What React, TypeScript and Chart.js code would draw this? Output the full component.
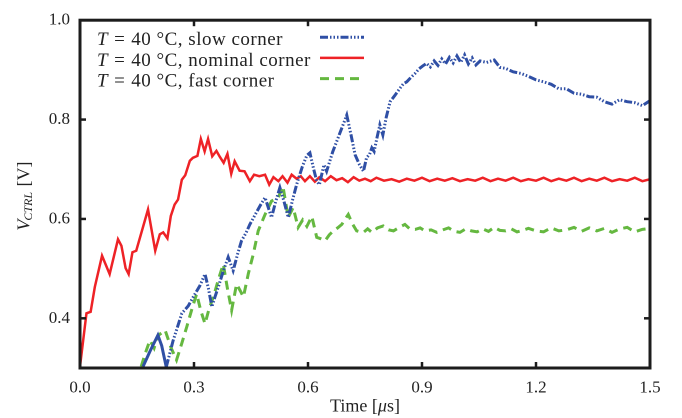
import React, { useEffect, useRef } from 'react';
import { Chart, registerables } from 'chart.js';

Chart.register(...registerables);

const xTicks = [0, 0.3, 0.6, 0.9, 1.2, 1.5];
const yTicks = [0.4, 0.6, 0.8, 1.0];
const legendLabels = ['slow corner', 'nominal corner', 'fast corner'];
const legendTemp = '40 °C';

const slowT = [0.166, 0.185, 0.205, 0.215, 0.227, 0.245, 0.268, 0.285, 0.298, 0.315, 0.329, 0.338, 0.347, 0.356, 0.364, 0.377, 0.39, 0.403, 0.415, 0.425, 0.437, 0.447, 0.462, 0.475, 0.487, 0.504, 0.515, 0.526, 0.537, 0.548, 0.56, 0.57, 0.585, 0.597, 0.605, 0.615, 0.623, 0.63, 0.642, 0.649, 0.665, 0.68, 0.69, 0.702, 0.713, 0.724, 0.735, 0.746, 0.754, 0.762, 0.768, 0.774, 0.782, 0.789, 0.797, 0.806, 0.816, 0.828, 0.842, 0.851, 0.86, 0.871, 0.882, 0.892, 0.902, 0.912, 0.922, 0.932, 0.942, 0.952, 0.962, 0.972, 0.982, 0.992, 1.002, 1.012, 1.022, 1.032, 1.042, 1.053, 1.07, 1.09, 1.105, 1.12, 1.14, 1.16, 1.18, 1.2, 1.22, 1.24, 1.26, 1.28, 1.3, 1.32, 1.34, 1.36, 1.38, 1.4, 1.42, 1.44, 1.46, 1.48, 1.5];
const slowV = [0.303, 0.335, 0.366, 0.345, 0.302, 0.355, 0.41, 0.425, 0.443, 0.465, 0.489, 0.46, 0.423, 0.445, 0.463, 0.495, 0.523, 0.496, 0.53, 0.556, 0.572, 0.589, 0.61, 0.628, 0.643, 0.603, 0.635, 0.663, 0.635, 0.603, 0.64, 0.669, 0.705, 0.728, 0.733, 0.7, 0.676, 0.669, 0.709, 0.696, 0.735, 0.765, 0.785, 0.809, 0.77, 0.729, 0.71, 0.696, 0.723, 0.73, 0.743, 0.736, 0.765, 0.789, 0.769, 0.805, 0.836, 0.848, 0.863, 0.872, 0.876, 0.885, 0.893, 0.902, 0.908, 0.913, 0.906, 0.918, 0.909, 0.922, 0.912, 0.925, 0.914, 0.928, 0.915, 0.93, 0.912, 0.924, 0.91, 0.918, 0.915, 0.92, 0.905, 0.903, 0.896, 0.893, 0.887, 0.88, 0.876, 0.871, 0.862, 0.862, 0.853, 0.851, 0.846, 0.845, 0.836, 0.831, 0.84, 0.836, 0.834, 0.828, 0.838];

const nominalT = [0, 0.017, 0.028, 0.039, 0.058, 0.078, 0.1, 0.109, 0.12, 0.128, 0.138, 0.148, 0.179, 0.198, 0.21, 0.219, 0.23, 0.239, 0.249, 0.258, 0.268, 0.277, 0.289, 0.297, 0.309, 0.318, 0.328, 0.337, 0.348, 0.359, 0.368, 0.378, 0.388, 0.398, 0.407, 0.42, 0.433, 0.447, 0.458, 0.472, 0.487, 0.498, 0.509, 0.522, 0.533, 0.546, 0.557, 0.57, 0.581, 0.592, 0.605, 0.618, 0.63, 0.645, 0.66, 0.675, 0.69, 0.705, 0.72, 0.735, 0.75, 0.765, 0.78, 0.8, 0.82, 0.84, 0.86, 0.88, 0.9, 0.92, 0.94, 0.96, 0.98, 1.0, 1.02, 1.04, 1.06, 1.08, 1.1, 1.12, 1.14, 1.16, 1.18, 1.2, 1.22, 1.24, 1.26, 1.28, 1.3, 1.32, 1.34, 1.36, 1.38, 1.4, 1.42, 1.44, 1.46, 1.48, 1.5];
const nominalV = [0.303, 0.41, 0.413, 0.463, 0.526, 0.489, 0.559, 0.546, 0.501, 0.489, 0.533, 0.536, 0.619, 0.536, 0.569, 0.573, 0.561, 0.606, 0.629, 0.639, 0.679, 0.688, 0.717, 0.723, 0.727, 0.761, 0.736, 0.761, 0.726, 0.737, 0.725, 0.713, 0.731, 0.691, 0.716, 0.697, 0.696, 0.676, 0.689, 0.686, 0.689, 0.669, 0.684, 0.676, 0.686, 0.673, 0.689, 0.681, 0.686, 0.676, 0.686, 0.675, 0.684, 0.676, 0.686, 0.678, 0.682, 0.674, 0.684, 0.677, 0.681, 0.676, 0.683, 0.677, 0.68, 0.675, 0.681, 0.677, 0.683, 0.676, 0.681, 0.677, 0.682, 0.676, 0.68, 0.677, 0.683, 0.676, 0.681, 0.677, 0.683, 0.676, 0.68, 0.677, 0.683, 0.676, 0.681, 0.677, 0.683, 0.676, 0.681, 0.677, 0.683, 0.676, 0.68, 0.677, 0.683, 0.676, 0.68];

const fastT = [0.161, 0.172, 0.184, 0.195, 0.205, 0.224, 0.24, 0.254, 0.268, 0.281, 0.295, 0.307, 0.318, 0.329, 0.34, 0.351, 0.365, 0.377, 0.388, 0.399, 0.412, 0.422, 0.43, 0.443, 0.456, 0.469, 0.487, 0.504, 0.522, 0.534, 0.548, 0.561, 0.574, 0.586, 0.597, 0.61, 0.623, 0.634, 0.645, 0.656, 0.667, 0.678, 0.689, 0.698, 0.706, 0.717, 0.728, 0.737, 0.746, 0.757, 0.768, 0.783, 0.798, 0.812, 0.825, 0.84, 0.855, 0.868, 0.882, 0.895, 0.908, 0.924, 0.939, 0.955, 0.97, 0.985, 1.0, 1.015, 1.03, 1.045, 1.06, 1.075, 1.09, 1.105, 1.12, 1.135, 1.15, 1.165, 1.18, 1.2, 1.22, 1.24, 1.26, 1.28, 1.3, 1.32, 1.34, 1.36, 1.38, 1.4, 1.42, 1.44, 1.46, 1.48, 1.5];
const fastV = [0.303, 0.33, 0.356, 0.34, 0.365, 0.376, 0.34, 0.316, 0.35, 0.383, 0.42, 0.449, 0.415, 0.389, 0.42, 0.443, 0.48, 0.509, 0.46, 0.416, 0.469, 0.455, 0.443, 0.49, 0.529, 0.576, 0.609, 0.636, 0.643, 0.666, 0.603, 0.623, 0.583, 0.598, 0.585, 0.605, 0.563, 0.56, 0.556, 0.568, 0.576, 0.582, 0.589, 0.6, 0.609, 0.59, 0.576, 0.574, 0.573, 0.58, 0.573, 0.582, 0.586, 0.578, 0.576, 0.583, 0.589, 0.58, 0.579, 0.582, 0.576, 0.578, 0.573, 0.578, 0.582, 0.575, 0.573, 0.58, 0.576, 0.574, 0.58, 0.575, 0.583, 0.577, 0.576, 0.58, 0.574, 0.577, 0.581, 0.576, 0.574, 0.582, 0.576, 0.578, 0.583, 0.575, 0.582, 0.576, 0.581, 0.573, 0.58, 0.583, 0.574, 0.579, 0.581];

const SLOW_COLOR = '#2f4fa5';
const NOMINAL_COLOR = '#ee2226';
const FAST_COLOR = '#65b840';
const SLOW_DASH = [8, 2, 1.5, 2, 1.5, 2, 1.5, 2];
const FAST_DASH = [9, 6];
const SERIF = '"Liberation Serif", "DejaVu Serif", serif';

const toPoints = (t: number[], v: number[]) => t.map((x, i) => ({ x, y: v[i] }));

const overlayPlugin = {
  id: 'overlay',
  afterDatasetsDraw(chart: any) {
    const { ctx, chartArea: a, scales } = chart;
    ctx.save();
    ctx.strokeStyle = '#1c1c1c';
    ctx.lineWidth = 3;
    ctx.strokeRect(a.left, a.top, a.right - a.left, a.bottom - a.top);
    ctx.lineWidth = 2.5;
    const seg = (x1: number, y1: number, x2: number, y2: number) => {
      ctx.beginPath();
      ctx.moveTo(x1, y1);
      ctx.lineTo(x2, y2);
      ctx.stroke();
    };
    xTicks.forEach((v) => {
      const px = scales.x.getPixelForValue(v);
      if (px <= a.left + 2 || px >= a.right - 2) return;
      seg(px, a.bottom, px, a.bottom - 6);
      seg(px, a.top, px, a.top + 6);
    });
    yTicks.forEach((v) => {
      const py = scales.y.getPixelForValue(v);
      if (py <= a.top + 2 || py >= a.bottom - 2) return;
      seg(a.left, py, a.left + 6, py);
      seg(a.right, py, a.right - 6, py);
    });

    // legend
    const colors = [SLOW_COLOR, NOMINAL_COLOR, FAST_COLOR];
    const dashes = [SLOW_DASH, [], FAST_DASH];
    const widths = [3, 2.5, 3];
    ctx.fillStyle = '#222';
    ctx.textBaseline = 'alphabetic';
    ctx.textAlign = 'left';
    legendLabels.forEach((lab, i) => {
      const base = a.top + 25 + i * 20.7;
      let x = a.left + 17;
      (ctx as any).letterSpacing = '0px';
      ctx.font = `italic 19px ${SERIF}`;
      ctx.fillText('T', x, base);
      x += ctx.measureText('T').width + 6.5;
      ctx.font = `19px ${SERIF}`;
      ctx.fillText('=', x, base);
      x += ctx.measureText('=').width + 6.5;
      (ctx as any).letterSpacing = '0.5px';
      ctx.fillText(`${legendTemp}, ${lab}`, x, base);
      (ctx as any).letterSpacing = '0px';
      ctx.save();
      ctx.strokeStyle = colors[i];
      ctx.lineWidth = widths[i];
      ctx.setLineDash(dashes[i]);
      seg(a.left + 240, base - 8, a.left + 284, base - 8);
      ctx.restore();
    });

    // y title
    ctx.save();
    ctx.translate(a.left - 55, (a.top + a.bottom) / 2 + 2);
    ctx.rotate(-Math.PI / 2);
    ctx.font = `italic 18px ${SERIF}`;
    const wV = ctx.measureText('V').width;
    ctx.font = `italic 12px ${SERIF}`;
    const wSub = ctx.measureText('CTRL').width;
    ctx.font = `18px ${SERIF}`;
    const wRest = ctx.measureText(' [V]').width;
    const total = wV + wSub + wRest;
    let tx = -total / 2;
    ctx.textBaseline = 'middle';
    ctx.font = `italic 18px ${SERIF}`;
    ctx.fillText('V', tx, 0);
    tx += wV;
    ctx.font = `italic 12px ${SERIF}`;
    ctx.fillText('CTRL', tx - 1, 4);
    tx += wSub;
    ctx.font = `18px ${SERIF}`;
    ctx.fillText(' [V]', tx, 0);
    ctx.restore();

    // x title
    ctx.font = `18px ${SERIF}`;
    const p1 = 'Time [';
    const p3 = 's]';
    const w1 = ctx.measureText(p1).width;
    const w3 = ctx.measureText(p3).width;
    ctx.font = `italic 18px ${SERIF}`;
    const w2 = ctx.measureText('μ').width;
    let xx = (a.left + a.right) / 2 - (w1 + w2 + w3) / 2;
    const yy = a.bottom + 39;
    ctx.textBaseline = 'middle';
    ctx.font = `18px ${SERIF}`;
    ctx.fillText(p1, xx, yy);
    xx += w1;
    ctx.font = `italic 18px ${SERIF}`;
    ctx.fillText('μ', xx, yy);
    xx += w2;
    ctx.font = `18px ${SERIF}`;
    ctx.fillText(p3, xx, yy);

    ctx.restore();
  },
};

export default function App() {
  const ref = useRef<HTMLCanvasElement | null>(null);
  useEffect(() => {
    document.body.style.margin = '0';
    const canvas = ref.current;
    if (!canvas) return;
    const chart = new Chart(canvas, {
      type: 'line',
      data: {
        datasets: [
          {
            label: 'slow corner',
            data: toPoints(slowT, slowV),
            borderColor: SLOW_COLOR,
            borderWidth: 3,
            pointRadius: 0,
            tension: 0,
            segment: {
              borderDash: (c: any) => (c.p0DataIndex < 4 ? [] : SLOW_DASH),
            },
          },
          {
            label: 'nominal corner',
            data: toPoints(nominalT, nominalV),
            borderColor: NOMINAL_COLOR,
            borderWidth: 2.5,
            pointRadius: 0,
            tension: 0,
          },
          {
            label: 'fast corner',
            data: toPoints(fastT, fastV),
            borderColor: FAST_COLOR,
            borderWidth: 3,
            borderDash: FAST_DASH,
            pointRadius: 0,
            tension: 0,
          },
        ],
      },
      options: {
        animation: false,
        responsive: false,
        devicePixelRatio: 2,
        layout: { padding: { left: 0, right: 32, top: 18, bottom: 0 } },
        plugins: { legend: { display: false }, tooltip: { enabled: false } },
        scales: {
          x: {
            type: 'linear',
            min: 0,
            max: 1.5,
            grid: { display: false, drawTicks: false },
            border: { display: false },
            afterBuildTicks: (s: any) => {
              s.ticks = xTicks.map((v) => ({ value: v }));
            },
            afterFit: (s: any) => {
              s.height = 50;
            },
            ticks: {
              padding: 10,
              color: '#222',
              font: { family: SERIF, size: 17 },
              maxRotation: 0,
              callback: (v: any) => Number(v).toFixed(1),
            },
          },
          y: {
            type: 'linear',
            min: 0.3,
            max: 1.0,
            grid: { display: false, drawTicks: false },
            border: { display: false },
            afterBuildTicks: (s: any) => {
              s.ticks = yTicks.map((v) => ({ value: v }));
            },
            afterFit: (s: any) => {
              s.width = 80;
            },
            ticks: {
              padding: 10,
              color: '#222',
              font: { family: SERIF, size: 17 },
              callback: (v: any) => Number(v).toFixed(1),
            },
          },
        },
      },
      plugins: [overlayPlugin],
    } as any);
    return () => chart.destroy();
  }, []);
  return (
    <div style={{ width: 682, height: 418, background: '#fff' }}>
      <canvas ref={ref} width={682} height={418} style={{ width: 682, height: 418, display: 'block' }} />
    </div>
  );
}
